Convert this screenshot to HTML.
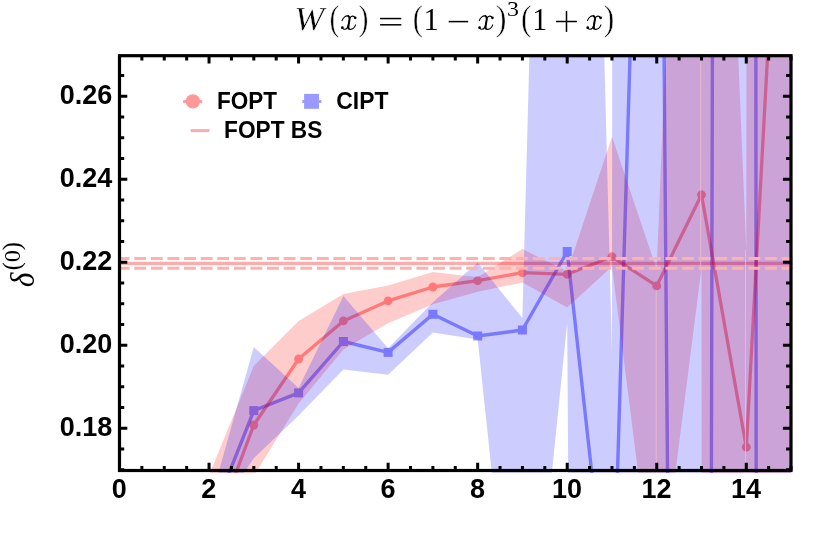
<!DOCTYPE html>
<html><head><meta charset="utf-8"><title>plot</title>
<style>
html,body{margin:0;padding:0;background:#fff;}
body{width:830px;height:544px;overflow:hidden;position:relative;font-family:"Liberation Sans",sans-serif;}
svg{position:absolute;left:0;top:0;will-change:transform;}
text{font-family:"Liberation Sans",sans-serif;font-weight:bold;fill:#000;}
.ser{font-family:"Liberation Serif",serif;font-weight:normal;}
</style></head><body>
<svg width="830" height="544" viewBox="0 0 830 544">
<defs><clipPath id="cp"><rect x="118" y="54.6" width="674.6" height="418.4"/></clipPath></defs>
<rect x="0" y="0" width="830" height="544" fill="#fff"/>
<g clip-path="url(#cp)">
<g opacity="0.4"><polyline points="209.0,523.7 253.8,410.6 298.6,392.9 343.4,341.5 388.1,352.4 432.9,314.3 477.7,336.0 522.4,330.0 567.2,251.5 612.0,655.0 656.7,-831.0 701.5,4559.0 746.3,-13949.0 791.1,51505.0" fill="none" stroke="#0000ff" stroke-width="3.4" stroke-linejoin="round"/>
<rect x="249.3" y="406.1" width="9" height="9" fill="#0000ff"/>
<rect x="294.1" y="388.4" width="9" height="9" fill="#0000ff"/>
<rect x="338.9" y="337.0" width="9" height="9" fill="#0000ff"/>
<rect x="383.6" y="347.9" width="9" height="9" fill="#0000ff"/>
<rect x="428.4" y="309.8" width="9" height="9" fill="#0000ff"/>
<rect x="473.2" y="331.5" width="9" height="9" fill="#0000ff"/>
<rect x="517.9" y="325.5" width="9" height="9" fill="#0000ff"/>
<rect x="562.7" y="247.0" width="9" height="9" fill="#0000ff"/>
</g>
<polygon points="209.0,475.3 253.8,365.9 298.6,321.0 343.4,294.0 388.1,285.6 432.9,272.0 477.7,277.3 522.4,249.0 567.2,271.5 612.0,136.7 656.7,269.5 701.5,-827.0 746.3,250.0 791.1,-60000.0 791.1,60000.0 746.3,60000.0 701.5,268.0 656.7,619.5 612.0,266.5 567.2,307.4 522.4,282.5 477.7,291.8 432.9,304.3 388.1,323.2 343.4,349.5 298.6,403.5 253.8,476.0 209.0,640.0" fill="#ff0000" fill-opacity="0.2"/>
<line x1="117.3" x2="793.2" y1="263.4" y2="263.4" stroke="#ff0000" stroke-opacity="0.33" stroke-width="3.1"/>
<g opacity="0.4"><polyline points="209.0,545.0 253.8,425.0 298.6,359.0 343.4,320.9 388.1,300.9 432.9,287.0 477.7,280.6 522.4,272.7 567.2,274.3 612.0,256.8 656.7,285.9 701.5,194.8 746.3,447.2 791.1,-377.0" fill="none" stroke="#ff0000" stroke-width="3.3" stroke-linejoin="round"/>
<circle cx="253.8" cy="425.0" r="4.45" fill="#ff0000"/>
<circle cx="298.6" cy="359.0" r="4.45" fill="#ff0000"/>
<circle cx="343.4" cy="320.9" r="4.45" fill="#ff0000"/>
<circle cx="388.1" cy="300.9" r="4.45" fill="#ff0000"/>
<circle cx="432.9" cy="287.0" r="4.45" fill="#ff0000"/>
<circle cx="477.7" cy="280.6" r="4.45" fill="#ff0000"/>
<circle cx="522.4" cy="272.7" r="4.45" fill="#ff0000"/>
<circle cx="567.2" cy="274.3" r="4.45" fill="#ff0000"/>
<circle cx="612.0" cy="256.8" r="4.45" fill="#ff0000"/>
<circle cx="656.7" cy="285.9" r="4.45" fill="#ff0000"/>
<circle cx="701.5" cy="194.8" r="4.45" fill="#ff0000"/>
<circle cx="746.3" cy="447.2" r="4.45" fill="#ff0000"/>
</g>
<polygon points="209.0,506.3 253.8,347.1 298.6,388.0 343.4,295.9 388.1,348.2 432.9,302.2 477.7,262.6 522.4,318.0 567.2,-1370.0 612.0,352.0 656.7,-80000.0 701.5,-80000.0 746.3,-80000.0 791.1,-80000.0 791.1,80000.0 746.3,80000.0 701.5,80000.0 656.7,80000.0 612.0,7000.0 567.2,322.7 522.4,762.0 477.7,339.4 432.9,332.6 388.1,374.7 343.4,369.4 298.6,415.5 253.8,458.3 209.0,525.0" fill="#0000ff" fill-opacity="0.2"/>
<path d="M700.7 54V271M656.2 290V473M745.5 250V473" stroke="#ffcccc" stroke-opacity="0.55" stroke-width="1" fill="none"/>
<line x1="117.66" x2="793.2" y1="258.4" y2="258.4" stroke="#ffb1ab" stroke-width="3.0" stroke-dasharray="11.85 4.75"/>
<line x1="117.66" x2="793.2" y1="268.3" y2="268.3" stroke="#ffb1ab" stroke-width="3.0" stroke-dasharray="11.85 4.75"/>
</g>
<rect x="119.5" y="55.7" width="671.5" height="414.8" fill="none" stroke="#000" stroke-width="3.2"/>
<path d="M119.50 470.5V462.8M119.50 55.7V63.4M141.88 470.5V466.1M141.88 55.7V60.6M164.27 470.5V466.1M164.27 55.7V60.6M186.66 470.5V466.1M186.66 55.7V60.6M209.04 470.5V462.8M209.04 55.7V63.4M231.43 470.5V466.1M231.43 55.7V60.6M253.81 470.5V466.1M253.81 55.7V60.6M276.20 470.5V466.1M276.20 55.7V60.6M298.58 470.5V462.8M298.58 55.7V63.4M320.97 470.5V466.1M320.97 55.7V60.6M343.35 470.5V466.1M343.35 55.7V60.6M365.74 470.5V466.1M365.74 55.7V60.6M388.12 470.5V462.8M388.12 55.7V63.4M410.50 470.5V466.1M410.50 55.7V60.6M432.89 470.5V466.1M432.89 55.7V60.6M455.28 470.5V466.1M455.28 55.7V60.6M477.66 470.5V462.8M477.66 55.7V63.4M500.05 470.5V466.1M500.05 55.7V60.6M522.43 470.5V466.1M522.43 55.7V60.6M544.82 470.5V466.1M544.82 55.7V60.6M567.20 470.5V462.8M567.20 55.7V63.4M589.59 470.5V466.1M589.59 55.7V60.6M611.97 470.5V466.1M611.97 55.7V60.6M634.36 470.5V466.1M634.36 55.7V60.6M656.74 470.5V462.8M656.74 55.7V63.4M679.12 470.5V466.1M679.12 55.7V60.6M701.51 470.5V466.1M701.51 55.7V60.6M723.90 470.5V466.1M723.90 55.7V60.6M746.28 470.5V462.8M746.28 55.7V63.4M768.67 470.5V466.1M768.67 55.7V60.6M791.05 470.5V466.1M791.05 55.7V60.6M119.5 469.75H124.2M791.0 469.75H786.1M119.5 449.00H124.2M791.0 449.00H786.1M119.5 428.25H127.3M791.0 428.25H782.9M119.5 407.50H124.2M791.0 407.50H786.1M119.5 386.75H124.2M791.0 386.75H786.1M119.5 366.00H124.2M791.0 366.00H786.1M119.5 345.25H127.3M791.0 345.25H782.9M119.5 324.50H124.2M791.0 324.50H786.1M119.5 303.75H124.2M791.0 303.75H786.1M119.5 283.00H124.2M791.0 283.00H786.1M119.5 262.25H127.3M791.0 262.25H782.9M119.5 241.50H124.2M791.0 241.50H786.1M119.5 220.75H124.2M791.0 220.75H786.1M119.5 200.00H124.2M791.0 200.00H786.1M119.5 179.25H127.3M791.0 179.25H782.9M119.5 158.50H124.2M791.0 158.50H786.1M119.5 137.75H124.2M791.0 137.75H786.1M119.5 117.00H124.2M791.0 117.00H786.1M119.5 96.25H127.3M791.0 96.25H782.9M119.5 75.50H124.2M791.0 75.50H786.1" stroke="#000" stroke-width="3" fill="none"/>
<text x="119.3" y="498.3" font-size="27" text-anchor="middle">0</text>
<text x="208.8" y="498.3" font-size="27" text-anchor="middle">2</text>
<text x="298.4" y="498.3" font-size="27" text-anchor="middle">4</text>
<text x="387.9" y="498.3" font-size="27" text-anchor="middle">6</text>
<text x="477.5" y="498.3" font-size="27" text-anchor="middle">8</text>
<text x="567.0" y="498.3" font-size="27" text-anchor="middle">10</text>
<text x="656.5" y="498.3" font-size="27" text-anchor="middle">12</text>
<text x="746.1" y="498.3" font-size="27" text-anchor="middle">14</text>
<text x="112.2" y="436.1" font-size="27" text-anchor="end">0.18</text>
<text x="112.2" y="353.0" font-size="27" text-anchor="end">0.20</text>
<text x="112.2" y="270.1" font-size="27" text-anchor="end">0.22</text>
<text x="112.2" y="187.1" font-size="27" text-anchor="end">0.24</text>
<text x="112.2" y="104.0" font-size="27" text-anchor="end">0.26</text>
<g><line x1="183.1" x2="202.2" y1="101.5" y2="101.5" stroke="#ff9999" stroke-width="2.8"/><circle cx="192.9" cy="101.4" r="7.2" fill="#ff9999"/>
<text x="216.9" y="108.7" font-size="24" textLength="60" lengthAdjust="spacingAndGlyphs">FOPT</text>
<line x1="302.3" x2="321.4" y1="101.5" y2="101.5" stroke="#9999ff" stroke-width="2.8"/><rect x="304.1" y="93.9" width="14.9" height="14.9" fill="#9999ff"/>
<text x="336.3" y="108.7" font-size="24" textLength="52.2" lengthAdjust="spacingAndGlyphs">CIPT</text>
<line x1="190.6" x2="209.5" y1="130.6" y2="130.6" stroke="#ffabab" stroke-width="3"/>
<text x="224.1" y="138.1" font-size="24" textLength="98.2" lengthAdjust="spacingAndGlyphs">FOPT BS</text></g>
<text class="ser" transform="matrix(0.3598 0 0 0.3343 294.36 29.90)" font-size="100" font-style="italic" style="font-weight:normal" stroke="#fff" stroke-width="0.40" vector-effect="non-scaling-stroke">W</text>
<text class="ser" transform="matrix(0.2941 0 0 0.3622 329.53 29.94)" font-size="100" font-style="normal" style="font-weight:normal" stroke="#fff" stroke-width="0.50" vector-effect="non-scaling-stroke">(</text>
<g transform="translate(335.00,10) scale(0.04411)" fill="none" stroke="#000" stroke-linecap="round" stroke-linejoin="round"><path d="M303,138 C336,155 332,215 321,265 C311,320 300,380 304,420" stroke-width="44"/><path d="M160,240 C185,170 245,118 303,138" stroke-width="25"/><path d="M452,178 C432,130 378,125 346,168 C334,186 328,215 322,250" stroke-width="25"/><path d="M168,412 C198,450 252,440 276,404 C296,374 306,330 316,280" stroke-width="25"/><path d="M302,350 C294,405 312,442 352,440 C402,438 446,394 466,338" stroke-width="25"/><circle cx="458" cy="176" r="31" fill="#000" stroke="none"/><circle cx="166" cy="402" r="31" fill="#000" stroke="none"/></g>
<text class="ser" transform="matrix(0.3000 0 0 0.3622 358.55 29.94)" font-size="100" font-style="normal" style="font-weight:normal" stroke="#fff" stroke-width="0.50" vector-effect="non-scaling-stroke">)</text>
<rect x="380.1" y="17.8" width="21.2" height="1.5"/><rect x="380.1" y="24.05" width="21.2" height="1.5"/>
<text class="ser" transform="matrix(0.3059 0 0 0.3622 412.87 29.94)" font-size="100" font-style="normal" style="font-weight:normal" stroke="#fff" stroke-width="0.50" vector-effect="non-scaling-stroke">(</text>
<text class="ser" transform="matrix(0.3042 0 0 0.3182 423.61 29.90)" font-size="100" font-style="normal" style="font-weight:normal">1</text>
<rect x="448.7" y="20.85" width="19.5" height="1.5"/>
<g transform="translate(472.20,10) scale(0.04411)" fill="none" stroke="#000" stroke-linecap="round" stroke-linejoin="round"><path d="M303,138 C336,155 332,215 321,265 C311,320 300,380 304,420" stroke-width="44"/><path d="M160,240 C185,170 245,118 303,138" stroke-width="25"/><path d="M452,178 C432,130 378,125 346,168 C334,186 328,215 322,250" stroke-width="25"/><path d="M168,412 C198,450 252,440 276,404 C296,374 306,330 316,280" stroke-width="25"/><path d="M302,350 C294,405 312,442 352,440 C402,438 446,394 466,338" stroke-width="25"/><circle cx="458" cy="176" r="31" fill="#000" stroke="none"/><circle cx="166" cy="402" r="31" fill="#000" stroke="none"/></g>
<text class="ser" transform="matrix(0.3231 0 0 0.3622 495.68 29.94)" font-size="100" font-style="normal" style="font-weight:normal" stroke="#fff" stroke-width="0.50" vector-effect="non-scaling-stroke">)</text>
<text class="ser" transform="matrix(0.2390 0 0 0.2030 506.90 16.30)" font-size="100" font-style="normal" style="font-weight:normal">3</text>
<text class="ser" transform="matrix(0.3176 0 0 0.3622 521.02 29.94)" font-size="100" font-style="normal" style="font-weight:normal" stroke="#fff" stroke-width="0.50" vector-effect="non-scaling-stroke">(</text>
<text class="ser" transform="matrix(0.2986 0 0 0.3182 532.16 29.90)" font-size="100" font-style="normal" style="font-weight:normal">1</text>
<rect x="556.1" y="20.75" width="20.8" height="1.5"/><rect x="565.75" y="11.1" width="1.5" height="20.8"/>
<g transform="translate(580.40,10) scale(0.04411)" fill="none" stroke="#000" stroke-linecap="round" stroke-linejoin="round"><path d="M303,138 C336,155 332,215 321,265 C311,320 300,380 304,420" stroke-width="44"/><path d="M160,240 C185,170 245,118 303,138" stroke-width="25"/><path d="M452,178 C432,130 378,125 346,168 C334,186 328,215 322,250" stroke-width="25"/><path d="M168,412 C198,450 252,440 276,404 C296,374 306,330 316,280" stroke-width="25"/><path d="M302,350 C294,405 312,442 352,440 C402,438 446,394 466,338" stroke-width="25"/><circle cx="458" cy="176" r="31" fill="#000" stroke="none"/><circle cx="166" cy="402" r="31" fill="#000" stroke="none"/></g>
<text class="ser" transform="matrix(0.3154 0 0 0.3622 603.70 29.94)" font-size="100" font-style="normal" style="font-weight:normal" stroke="#fff" stroke-width="0.50" vector-effect="non-scaling-stroke">)</text>
<text class="ser" transform="matrix(0 -0.3156 0.3475 0 33.65 287.15)" font-size="100" font-style="italic" style="font-weight:normal">δ</text>
<text class="ser" transform="matrix(0 -0.2392 0.2544 0 20.16 270.18)" font-size="100" font-style="normal" style="font-weight:normal">(</text>
<text class="ser" transform="matrix(0 -0.2452 0.2341 0 19.87 262.18)" font-size="100" font-style="normal" style="font-weight:normal">0</text>
<text class="ser" transform="matrix(0 -0.2462 0.2544 0 20.16 250.14)" font-size="100" font-style="normal" style="font-weight:normal">)</text>
</svg></body></html>
